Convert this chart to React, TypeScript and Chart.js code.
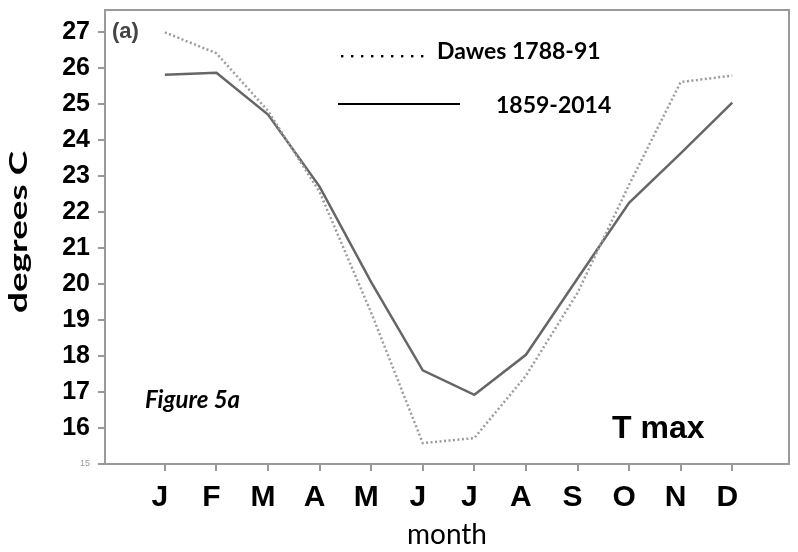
import { useEffect, useRef } from 'react';
import { Chart, registerables } from 'chart.js';

Chart.register(...registerables);

const months = ['J', 'F', 'M', 'A', 'M', 'J', 'J', 'A', 'S', 'O', 'N', 'D'];
const dawes = [26.98, 26.4, 24.8, 22.55, 19.2, 15.58, 15.72, 17.45, 19.75, 22.75, 25.6, 25.78];
const modern = [25.8, 25.86, 24.7, 22.7, 20.05, 17.6, 16.92, 18.03, 20.15, 22.25, 23.62, 25.03];
const yTicks = [15, 16, 17, 18, 19, 20, 21, 22, 23, 24, 25, 26, 27];
const seriesNames = ['Dawes 1788-91', '1859-2014'];
const yTitle = 'degrees C';

const overlay = {
  id: 'overlay',
  afterDraw(chart: any) {
    const { ctx, chartArea: a } = chart;
    ctx.save();
    ctx.strokeStyle = '#9a9a9a';
    ctx.lineWidth = 2;
    ctx.strokeRect(a.left, a.top, a.right - a.left, a.bottom - a.top);

    ctx.textBaseline = 'middle';
    ctx.textAlign = 'left';
    // (a)
    ctx.fillStyle = '#444';
    ctx.font = 'bold 22px "Liberation Sans"';
    ctx.fillText('(a)', a.left + 7, a.top + 22);

    // legend
    ctx.fillStyle = '#000';
    for (let i = 0; i < 9; i++) {
      ctx.fillRect(a.left + 236 + i * 10, a.top + 45, 2.4, 2.4);
    }
    ctx.font = 'bold 23px Lato';
    ctx.fillText(seriesNames[0], a.left + 332, a.top + 42);
    ctx.strokeStyle = '#000';
    ctx.lineWidth = 2;
    ctx.beginPath();
    ctx.moveTo(a.left + 233, a.top + 94);
    ctx.lineTo(a.left + 355, a.top + 94);
    ctx.stroke();
    ctx.fillText(seriesNames[1], a.left + 391, a.top + 96);

    // Figure 5a
    ctx.font = 'italic bold 24px Lato';
    ctx.fillText('Figure 5a', a.left + 40, a.top + 390);

    // T max
    ctx.font = 'bold 32px "Liberation Sans"';
    ctx.fillText('T max', a.left + 507, a.top + 419);

    // y axis title
    ctx.save();
    ctx.translate(19, (a.top + a.bottom) / 2 - 5);
    ctx.rotate(-Math.PI / 2);
    ctx.font = 'bold 25px Lato';
    const w = ctx.measureText(yTitle).width;
    const sx = 162 / w;
    ctx.scale(sx, 1);
    ctx.textAlign = 'center';
    ctx.fillStyle = '#000';
    ctx.fillText(yTitle, 0, 0);
    ctx.restore();

    ctx.restore();
  },
};

export default function App() {
  const ref = useRef<HTMLCanvasElement>(null);
  useEffect(() => {
    if (!ref.current) return;
    const chart = new Chart(ref.current, {
      type: 'line',
      data: {
        datasets: [
          {
            label: seriesNames[0],
            data: dawes.map((v, i) => ({ x: i, y: v })),
            borderColor: '#9c9c9c',
            borderWidth: 2.5,
            borderDash: [2, 2.5],
            pointRadius: 0,
            tension: 0,
          },
          {
            label: seriesNames[1],
            data: modern.map((v, i) => ({ x: i, y: v })),
            borderColor: '#666',
            borderWidth: 2.5,
            pointRadius: 0,
            tension: 0,
          },
        ],
      },
      options: {
        animation: false,
        responsive: true,
        maintainAspectRatio: false,
        layout: { padding: { top: 10, right: 9, left: 0, bottom: 0 } },
        plugins: { legend: { display: false }, tooltip: { enabled: false } },
        scales: {
          x: {
            type: 'linear',
            min: -1.16,
            max: 12.1,
            afterFit: (s: any) => {
              s.height = 88;
              s.paddingLeft = 0;
              s.paddingRight = 0;
            },
            afterBuildTicks: (s: any) => {
              s.ticks = months.map((_, i) => ({ value: i }));
            },
            border: { display: false },
            grid: { drawOnChartArea: false, drawTicks: true, tickLength: 7, color: '#999', lineWidth: 2 },
            ticks: {
              autoSkip: false,
              maxRotation: 0,
              padding: 9,
              labelOffset: -5,
              color: '#000',
              font: { family: '"Liberation Sans"', size: 30, weight: 'bold' },
              callback: (v: any) => months[v as number] ?? '',
            },
            title: {
              display: true,
              text: 'month',
              color: '#000',
              font: { family: 'Lato', size: 28 },
              padding: 0,
            },
          },
          y: {
            type: 'linear',
            min: 15,
            max: 27.6,
            afterFit: (s: any) => {
              s.width = 105;
              s.paddingTop = 0;
              s.paddingBottom = 0;
            },
            afterBuildTicks: (s: any) => {
              s.ticks = yTicks.map((v) => ({ value: v }));
            },
            border: { display: false },
            grid: { drawOnChartArea: false, drawTicks: true, tickLength: 7, color: '#999', lineWidth: 2 },
            ticks: {
              padding: 8,
              color: (c: any) => (c.tick && c.tick.value === 15 ? '#999' : '#000'),
              font: (c: any) =>
                c.tick && c.tick.value === 15
                  ? { family: '"Liberation Sans"', size: 9 }
                  : { family: '"Liberation Sans"', size: 25, weight: 'bold' },
            },
            title: { display: false, text: yTitle },
          },
        },
      },
      plugins: [overlay],
    } as any);
    return () => chart.destroy();
  }, []);
  return (
    <div style={{ position: 'fixed', left: 0, top: 0, width: 798, height: 552 }}>
      <canvas ref={ref} />
    </div>
  );
}
